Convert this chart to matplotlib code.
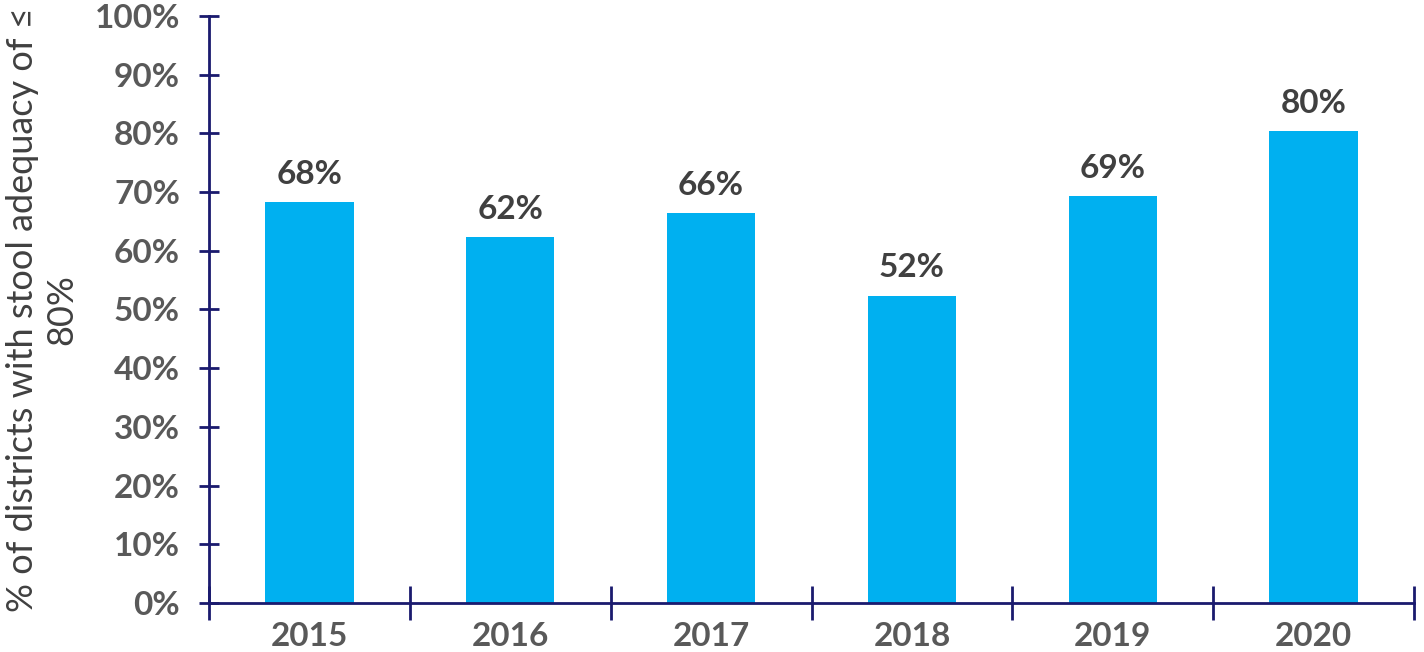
import matplotlib
matplotlib.use("Agg")
import matplotlib.pyplot as plt
from matplotlib.ticker import FixedLocator

years = ["2015", "2016", "2017", "2018", "2019", "2020"]
values = [68.3, 62.3, 66.4, 52.3, 69.3, 80.4]
labels = ["68%", "62%", "66%", "52%", "69%", "80%"]
yticks = [0, 10, 20, 30, 40, 50, 60, 70, 80, 90, 100]

plt.rcParams['font.family'] = ['Lato', 'DejaVu Sans']

bar_color = "#00B0F0"
axis_color = "#1A1A6E"
tick_gray = "#595959"
text_dark = "#404040"

fig = plt.figure(figsize=(14.24, 6.52), dpi=100)
ax = fig.add_axes([0.1468, 0.0752, 0.8462, 0.9003])

x = list(range(len(years)))
ax.bar(x, values, width=0.44, color=bar_color, zorder=2)

for xi, v, lab in zip(x, values, labels):
    ax.text(xi, v + 2.3, lab, ha="center", va="bottom", fontsize=24,
            fontweight="bold", color=text_dark)

ax.set_xlim(-0.5, len(years) - 0.5)
ax.set_ylim(0, 100)

ax.set_yticks(yticks)
ax.set_yticklabels([f"{t}%" for t in yticks], fontsize=24, fontweight="bold", color=tick_gray)
ax.tick_params(axis="y", direction="inout", length=14, width=2, color=axis_color, pad=14)

ax.set_xticks(x)
ax.set_xticklabels(years, fontsize=24, fontweight="bold", color=tick_gray)
ax.tick_params(axis="x", which="major", length=0, pad=14)
ax.xaxis.set_minor_locator(FixedLocator([i - 0.5 for i in range(len(years) + 1)]))
ax.tick_params(axis="x", which="minor", direction="inout", length=24, width=2, color=axis_color)

for side in ["top", "right"]:
    ax.spines[side].set_visible(False)
for side in ["left", "bottom"]:
    ax.spines[side].set_color(axis_color)
    ax.spines[side].set_linewidth(2)
ax.spines["bottom"].set_zorder(3)

ax.set_ylabel("% of districts with stool adequacy of ≤\n80%", fontsize=26,
              color=text_dark, labelpad=12)

fig.savefig("out.png", dpi=100)
